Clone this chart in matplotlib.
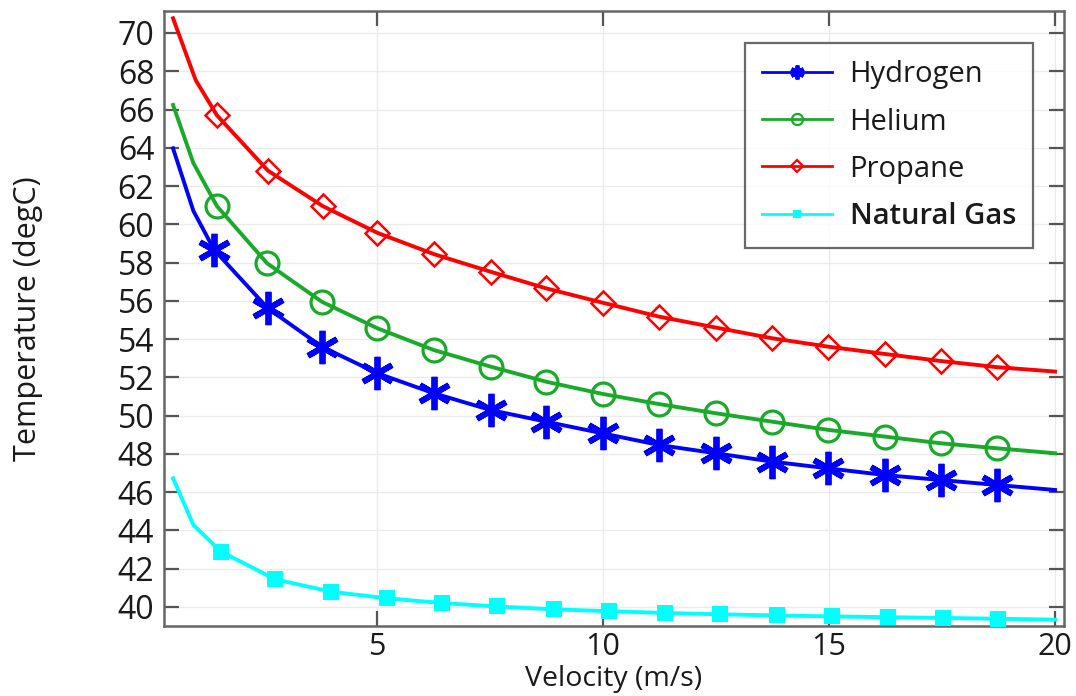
import matplotlib
matplotlib.use("Agg")
import matplotlib.pyplot as plt
from matplotlib.lines import Line2D

plt.rcParams['font.family'] = ['Open Sans', 'DejaVu Sans']

# ---- data ----
h2_x = [0.5, 0.95, 1.41, 2.6, 3.79, 5.02, 6.26, 7.52, 8.75, 10.0, 11.25, 12.5, 13.75, 14.99, 16.24, 17.48, 18.72, 20.0]
h2_y = [63.97, 60.7, 58.66, 55.6, 53.6, 52.21, 51.17, 50.29, 49.68, 49.07, 48.46, 48.03, 47.59, 47.24, 46.89, 46.63, 46.37, 46.11]

he_x = [0.5, 0.95, 1.47, 2.58, 3.79, 5.02, 6.26, 7.52, 8.75, 10.0, 11.25, 12.5, 13.75, 14.99, 16.24, 17.48, 18.72, 20.0]
he_y = [66.24, 63.2, 60.95, 57.96, 55.95, 54.56, 53.43, 52.56, 51.77, 51.13, 50.6, 50.12, 49.68, 49.25, 48.9, 48.55, 48.29, 48.03]

pr_x = [0.5, 1.0, 1.47, 2.6, 3.81, 5.02, 6.28, 7.52, 8.75, 10.0, 11.25, 12.5, 13.75, 14.99, 16.24, 17.48, 18.72, 20.0]
pr_y = [70.77, 67.54, 65.7, 62.8, 60.95, 59.55, 58.43, 57.52, 56.65, 55.9, 55.17, 54.6, 54.04, 53.6, 53.22, 52.85, 52.53, 52.3]

ng_x = [0.5, 0.95, 1.56, 2.76, 4.0, 5.22, 6.45, 7.66, 8.93, 10.15, 11.37, 12.59, 13.85, 15.07, 16.3, 17.52, 18.74, 20.0]
ng_y = [46.72, 44.28, 42.89, 41.44, 40.79, 40.45, 40.2, 40.02, 39.87, 39.77, 39.68, 39.61, 39.55, 39.5, 39.46, 39.42, 39.38, 39.33]

series_names = ["Hydrogen", "Helium", "Propane", "Natural Gas"]
x_ticks = [5, 10, 15, 20]
y_ticks = list(range(40, 71, 2))

# ---- figure ----
fig = plt.figure(figsize=(10.76, 6.96), dpi=100)
ax = fig.add_axes([0.1524, 0.1006, 0.8365, 0.8836])

mk = slice(2, -1)
lw = 2.8
ax.plot(pr_x, pr_y, color='#ff0000', lw=lw, marker='D', ms=12, mfc='none', mew=1.8, markevery=mk, zorder=3)
ax.plot(he_x, he_y, color='#1aaa2a', lw=lw, marker='o', ms=16.5, mfc='none', mew=2.3, markevery=mk, zorder=3)
ax.plot(h2_x, h2_y, color='#0000ff', lw=lw, marker=(6, 2, 0), ms=24, mew=4.2, markevery=mk, zorder=4)
ax.plot(ng_x, ng_y, color='#00ffff', lw=lw, marker='s', ms=11.5, mew=0, markevery=mk, zorder=3)

ax.set_xlim(0.3, 20.2)
ax.set_ylim(39.0, 71.15)
ax.set_xticks(x_ticks)
ax.set_yticks(y_ticks)
ax.grid(True, color='#ebebeb', lw=1.0, zorder=0)
ax.set_axisbelow(True)

for s in ax.spines.values():
    s.set_color('#666666')
    s.set_linewidth(1.8)

ax.tick_params(axis='both', direction='in', length=11, width=1.6, color='#555555',
               top=True, right=True, labelsize=23, labelcolor='#1a1a1a')
ax.tick_params(axis='x', pad=4, labelsize=22)
ax.tick_params(axis='y', pad=7)

ax.set_xlabel("Velocity (m/s)", fontsize=20.5, color='#1a1a1a', va='baseline')
ax.xaxis.set_label_coords(0.5, -0.0976)
ax.set_ylabel("Temperature (degC)", fontsize=22, color='#1a1a1a', va='center')
ax.yaxis.set_label_coords(-0.151, 0.5)

handles = [
    Line2D([], [], color='#0000ff', lw=2, marker=(6, 2, 0), ms=10, mew=2.8),
    Line2D([], [], color='#1aaa2a', lw=2, marker='o', ms=8, mfc='none', mew=1.6),
    Line2D([], [], color='#ff0000', lw=2, marker='D', ms=6, mfc='none', mew=1.6),
    Line2D([], [], color='#00ffff', lw=2, marker='s', ms=6, mew=0),
]
leg = ax.legend(handles, series_names, loc='upper right', bbox_to_anchor=(0.966, 0.948),
                borderaxespad=0, fontsize=21, frameon=True, fancybox=False,
                handlelength=2.4, handletextpad=0.6, labelspacing=0.62,
                borderpad=0.6)
leg.get_frame().set_edgecolor('#444444')
leg.get_frame().set_linewidth(1.6)
for t in leg.get_texts():
    t.set_color('#1a1a1a')
leg.get_texts()[3].set_fontweight('semibold')

fig.savefig("out.png", dpi=100)
